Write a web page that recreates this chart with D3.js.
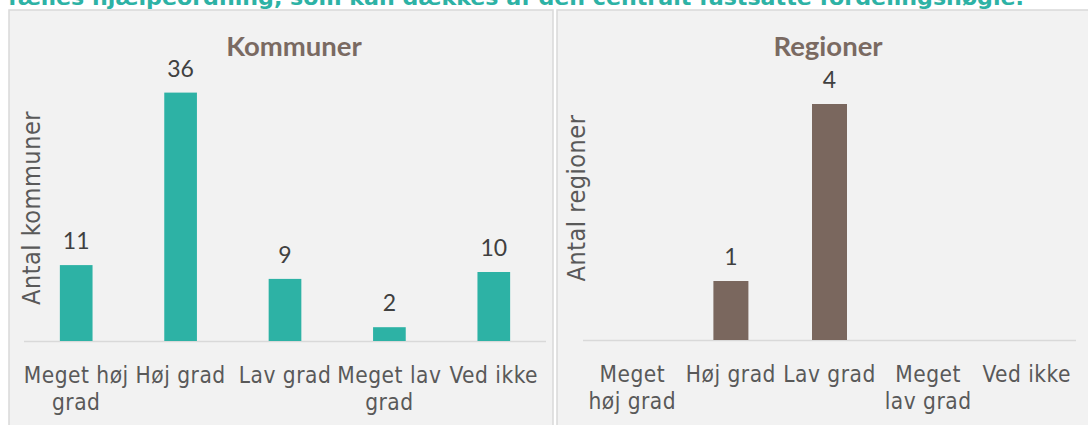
<!DOCTYPE html>
<html>
<head>
<meta charset="utf-8">
<script src="https://cdn.jsdelivr.net/npm/d3@7"></script>
<style>
  html, body { margin: 0; padding: 0; background: #fff; }
  svg { display: block; }
</style>
</head>
<body>
<div id="chart"></div>
<script>
// data
const headline = "fælles hjælpeordning, som kan dækkes af den centralt fastsatte fordelingsnøgle.";
const categories = ["Meget høj grad", "Høj grad", "Lav grad", "Meget lav grad", "Ved ikke"];
const kommunerValues = [11, 36, 9, 2, 10];
const regionerValues = [null, 1, 4, null, null];
// tick labels, wrapped as they appear in each panel
const kommunerTicks = [["Meget høj", "grad"], ["Høj grad"], ["Lav grad"], ["Meget lav", "grad"], ["Ved ikke"]];
const regionerTicks = [["Meget", "høj grad"], ["Høj grad"], ["Lav grad"], ["Meget", "lav grad"], ["Ved ikke"]];

const width = 1088, height = 425;
const textGray = "#595959";
const gridGray = "#d9d9d9";

const svg = d3.select("#chart").append("svg")
	.attr("width", width)
	.attr("height", height);

// headline, cut off by the top edge as in the source
svg.append("text")
	.attr("x", 8)
	.attr("y", 5)
	.attr("textLength", 1016)
	.attr("lengthAdjust", "spacingAndGlyphs")
	.style("font", "bold 22px 'DejaVu Sans Condensed', 'DejaVu Sans', sans-serif")
	.attr("fill", "#2db2a5")
	.text(headline);

function panel(opts) {
	const g = svg.append("g");

	g.append("rect")
		.attr("x", opts.box[0])
		.attr("y", opts.box[1])
		.attr("width", opts.box[2])
		.attr("height", opts.box[3])
		.attr("fill", "#f2f2f2")
		.attr("stroke", gridGray)
		.attr("stroke-width", 1.5);

	const x = d3.scaleBand()
		.domain(categories)
		.range(opts.xRange)
		.paddingInner(opts.pad)
		.paddingOuter(opts.pad / 2);

	const y = d3.scaleLinear()
		.domain([0, opts.yMax])
		.range([opts.base, opts.top]);

	const rows = categories.map((c, i) => ({ cat: c, value: opts.values[i], ticks: opts.ticks[i] }));

	// baseline
	g.append("line")
		.attr("x1", opts.xRange[0])
		.attr("x2", opts.xRange[1])
		.attr("y1", opts.base + 0.5)
		.attr("y2", opts.base + 0.5)
		.attr("stroke", gridGray)
		.attr("stroke-width", 1.5);

	const withValue = rows.filter(d => d.value != null);

	g.append("g")
		.selectAll("rect")
		.data(withValue)
		.join("rect")
		.attr("x", d => x(d.cat))
		.attr("width", x.bandwidth())
		.attr("y", d => y(d.value))
		.attr("height", d => y(0) - y(d.value))
		.attr("fill", opts.color);

	// value labels
	g.append("g")
		.selectAll("text")
		.data(withValue)
		.join("text")
		.attr("x", d => x(d.cat) + x.bandwidth() / 2)
		.attr("y", d => y(d.value) - 16)
		.attr("text-anchor", "middle")
		.style("font", "23px Lato, 'Open Sans', sans-serif")
		.attr("fill", "#404040")
		.text(d => d.value);

	// category labels
	const tick = g.append("g")
		.selectAll("text")
		.data(rows)
		.join("text")
		.attr("x", d => x(d.cat) + x.bandwidth() / 2)
		.attr("y", opts.base + 42)
		.attr("text-anchor", "middle")
		.style("font", "22.5px 'DejaVu Sans Condensed', 'DejaVu Sans', sans-serif")
		.style("letter-spacing", "0.5px")
		.attr("fill", textGray);

	tick.selectAll("tspan")
		.data(d => d.ticks)
		.join("tspan")
		.attr("x", function () { return d3.select(this.parentNode).attr("x"); })
		.attr("dy", (d, i) => i === 0 ? 0 : 27)
		.text(d => d);

	// panel title
	g.append("text")
		.attr("x", opts.titleX)
		.attr("y", 56)
		.attr("text-anchor", "middle")
		.style("font", "bold 27.5px Lato, sans-serif")
		.attr("fill", "#7a6a62")
		.text(opts.title);

	// y axis title
	g.append("text")
		.attr("transform", `translate(${opts.yTitle[0]},${opts.yTitle[1]}) rotate(-90)`)
		.attr("text-anchor", "middle")
		.style("font", "25px 'DejaVu Sans Condensed', 'DejaVu Sans', sans-serif")
		.style("letter-spacing", "0.5px")
		.attr("fill", textGray)
		.text(opts.yLabel);
}

panel({
	box: [9, 10, 544, 430],
	xRange: [24, 546],
	pad: 0.687,
	base: 341,
	top: 65,
	yMax: 40,
	values: kommunerValues,
	ticks: kommunerTicks,
	color: "#2db2a5",
	title: "Kommuner",
	titleX: 294,
	yTitle: [40, 208],
	yLabel: "Antal kommuner"
});

panel({
	box: [557, 10, 540, 430],
	xRange: [583, 1076],
	pad: 0.645,
	base: 340,
	top: 45,
	yMax: 5,
	values: regionerValues,
	ticks: regionerTicks,
	color: "#7a675e",
	title: "Regioner",
	titleX: 828,
	yTitle: [585, 198],
	yLabel: "Antal regioner"
});
</script>
</body>
</html>
